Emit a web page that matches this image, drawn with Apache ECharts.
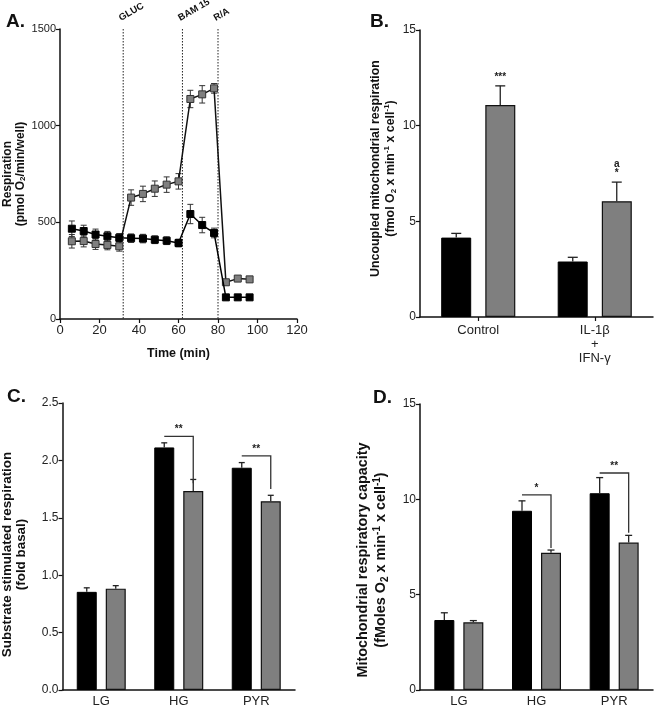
<!DOCTYPE html>
<html><head><meta charset="utf-8">
<script src="https://cdn.jsdelivr.net/npm/echarts@6/dist/echarts.min.js"></script>
<style>html,body{margin:0;padding:0;background:#fff}#c{width:654px;height:708px}</style>
</head><body><div id="c"></div>
<script>
// ---------- Panel A data ----------
const timeMin      = [6,12,18,24,30,36,42,48,54,60,66,72,78,84,90,96];
const blackResp    = [467,455,437,428,420,418,416,410,405,393,543,486,445,112,112,112];
const blackRespErr = [40,30,28,25,22,22,22,20,20,20,50,40,25,6,6,6];
const grayResp     = [402,403,388,383,376,628,647,674,695,712,1138,1162,1193,190,209,205];
const grayRespErr  = [35,30,28,25,25,40,40,40,40,40,45,45,25,10,10,10];
const injectTimes  = [32,62,80];
const injectLabels = ['GLUC','BAM 15','R/A'];
const aXTicks = [0,20,40,60,80,100,120];
const aYTicks = [0,500,1000,1500];

// ---------- Panel B data ----------
const bCats     = ['Control','IL-1β\n+\nIFN-γ'];
const bBlack    = [4.15, 2.90];
const bBlackErr = [0.22, 0.22];
const bGray     = [11.08, 6.05];
const bGrayErr  = [1.00, 1.00];
const bMarks    = ['***','a\n*'];

// ---------- Panel C data ----------
const cCats     = ['LG','HG','PYR'];
const cBlack    = [0.855, 2.113, 1.936];
const cBlackErr = [0.035, 0.040, 0.045];
const cGray     = [0.883, 1.734, 1.644];
const cGrayErr  = [0.026, 0.100, 0.052];
const cBracketCat    = [1, 2];
const cBracketLevel  = [2.21, 2.04];
const cBracketBottom = [1.80, 1.75];
const cBracketText   = ['**','**'];

// ---------- Panel D data ----------
const dCats     = ['LG','HG','PYR'];
const dBlack    = [3.67, 9.40, 10.32];
const dBlackErr = [0.38, 0.52, 0.82];
const dGray     = [3.55, 7.20, 7.73];
const dGrayErr  = [0.09, 0.14, 0.38];
const dBracketCat    = [1, 2];
const dBracketLevel  = [10.23, 11.38];
const dBracketBottom = [7.45, 8.25];
const dBracketText   = ['*','**'];

// ---------- styling ----------
const FONT = 'Liberation Sans, Arial, sans-serif';
const GRAY = '#7f7f7f';
const AX = {lineStyle:{color:'#111', width:1.5}};
const TICK = {show:true, length:4, lineStyle:{color:'#111', width:1.2}};
function lbl(size){ return {color:'#222', fontSize:size, fontFamily:FONT}; }
function richName(fs, lh){
  const s = Math.round(fs*0.68);
  return {
    b:{fontSize:fs, fontWeight:'bold', fontFamily:FONT, color:'#111', lineHeight:lh},
    s:{fontSize:s, fontWeight:'bold', fontFamily:FONT, color:'#111', lineHeight:lh, verticalAlign:'bottom'},
    p:{fontSize:s, fontWeight:'bold', fontFamily:FONT, color:'#111', lineHeight:lh, verticalAlign:'top'}
  };
}
const letterStyle = {fontSize:19, fontWeight:'bold', fontFamily:FONT, color:'#111'};

const chart = echarts.init(document.getElementById('c'), null, {renderer:'canvas'});

function triple(xs, ys, es){ return xs.map((x,i)=>[x, ys[i], es[i]]); }
function catTriple(ys, es){ return ys.map((y,i)=>[i, y, es[i]]); }

// two-sided error bars for panel A
function errBoth(params, api){
  const x = api.value(0), y = api.value(1), e = api.value(2);
  const lo = api.coord([x, y - e]), hi = api.coord([x, y + e]);
  const cap = 3, st = {stroke:'#333', lineWidth:1};
  return {type:'group', children:[
    {type:'line', shape:{x1:lo[0],y1:lo[1],x2:hi[0],y2:hi[1]}, style:st},
    {type:'line', shape:{x1:lo[0]-cap,y1:lo[1],x2:lo[0]+cap,y2:lo[1]}, style:st},
    {type:'line', shape:{x1:hi[0]-cap,y1:hi[1],x2:hi[0]+cap,y2:hi[1]}, style:st}
  ]};
}
// upward error bars for bars, offset from category centre
function errUp(offset, cap){
  return function(params, api){
    const c = api.value(0), y = api.value(1), e = api.value(2);
    const p0 = api.coord([c, y]), p1 = api.coord([c, y + e]);
    const x = p0[0] + offset, st = {stroke:'#222', lineWidth:1.3};
    return {type:'group', children:[
      {type:'line', shape:{x1:x,y1:p0[1],x2:x,y2:p1[1]}, style:st},
      {type:'line', shape:{x1:x-cap,y1:p1[1],x2:x+cap,y2:p1[1]}, style:st}
    ]};
  };
}
function bracket(offset, texts){
  return function(params, api){
    const c = api.value(0);
    const pl = api.coord([c, api.value(1)]), pb = api.coord([c, api.value(2)]);
    const x1 = pl[0] - offset, x2 = pl[0] + offset;
    return {type:'group', children:[
      {type:'polyline', shape:{points:[[x1,pl[1]],[x2,pl[1]],[x2,pb[1]]]}, style:{stroke:'#333', lineWidth:1.3, fill:null}},
      {type:'text', x:(x1+x2)/2, y:pl[1]-2, style:{text:texts[params.dataIndex], fill:'#222', font:'bold 10px '+FONT, textAlign:'center', textVerticalAlign:'bottom'}}
    ]};
  };
}

const bOff = 22, cOff = 14.5;

const option = {
  backgroundColor:'#fff',
  animation:false,
  title:[
    {text:'A.', left:6, top:12, padding:0, textStyle:letterStyle},
    {text:'B.', left:370, top:12, padding:0, textStyle:letterStyle},
    {text:'C.', left:7, top:387, padding:0, textStyle:letterStyle},
    {text:'D.', left:373, top:388, padding:0, textStyle:letterStyle}
  ],
  grid:[
    {left:60, top:29, width:237, height:290},
    {left:420, top:30, width:233, height:287},
    {left:62, top:403, width:233, height:289},
    {left:420, top:404, width:233, height:288}
  ],
  xAxis:[
    {gridIndex:0, type:'value', min:aXTicks[0], max:aXTicks[aXTicks.length-1], interval:20,
     axisLine:AX, axisTick:TICK, axisLabel:Object.assign({margin:5}, lbl(13)), splitLine:{show:false},
     name:'Time (min)', nameLocation:'middle', nameGap:28,
     nameTextStyle:{fontSize:12.5, fontWeight:'bold', fontFamily:FONT, color:'#111'}},
    {gridIndex:1, type:'category', data:bCats, axisLine:AX,
     axisTick:{show:true, alignWithLabel:true, length:4, lineStyle:{color:'#111', width:1.2}},
     axisLabel:Object.assign({lineHeight:14, margin:6}, lbl(13))},
    {gridIndex:2, type:'category', data:cCats, axisLine:AX, axisTick:{show:false},
     axisLabel:Object.assign({margin:5}, lbl(13))},
    {gridIndex:3, type:'category', data:dCats, axisLine:AX, axisTick:{show:false},
     axisLabel:Object.assign({margin:5}, lbl(13))}
  ],
  yAxis:[
    {gridIndex:0, type:'value', min:aYTicks[0], max:aYTicks[aYTicks.length-1], interval:500,
     axisLine:Object.assign({show:true}, AX), axisTick:TICK,
     axisLabel:Object.assign({formatter:v=>String(v), margin:4}, lbl(11)), splitLine:{show:false},
     name:'{b|Respiration}\n{b|(pmol O}{s|2}{b|/min/well)}', nameLocation:'middle', nameGap:33,
     nameTextStyle:{rich:richName(12, 13)}},
    {gridIndex:1, type:'value', min:0, max:15, interval:5,
     axisLine:Object.assign({show:true}, AX), axisTick:TICK, axisLabel:Object.assign({margin:4}, lbl(12)), splitLine:{show:false},
     name:'{b|Uncoupled mitochondrial respiration}\n{b|(fmol O}{s|2}{b| x min}{p|-1}{b| x cell}{p|-1}{b|)}',
     nameLocation:'middle', nameGap:22, nameTextStyle:{rich:richName(12.4, 15), padding:[0,0,0,10]}},
    {gridIndex:2, type:'value', min:0, max:2.5, interval:0.5,
     axisLine:Object.assign({show:true}, AX), axisTick:TICK,
     axisLabel:Object.assign({formatter:v=>v.toFixed(1), margin:4}, lbl(12)), splitLine:{show:false},
     name:'{b|Substrate stimulated respiration}\n{b|(fold basal)}', nameLocation:'middle', nameGap:34,
     nameTextStyle:{rich:richName(13.4, 14), padding:[0,16,0,0]}},
    {gridIndex:3, type:'value', min:0, max:15, interval:5,
     axisLine:Object.assign({show:true}, AX), axisTick:TICK, axisLabel:Object.assign({margin:4}, lbl(12)), splitLine:{show:false},
     name:'{b|Mitochondrial respiratory capacity}\n{b|(fMoles O}{s|2}{b| x min}{p|-1}{b| x cell}{p|-1}{b|)}',
     nameLocation:'middle', nameGap:30, nameTextStyle:{rich:richName(14.4, 18), padding:[0,26,0,0]}}
  ],
  series:[
    // ----- Panel A -----
    {type:'custom', xAxisIndex:0, yAxisIndex:0, clip:false, z:1,
     data:injectTimes.map(t=>[t, aYTicks[aYTicks.length-1]]),
     renderItem:function(params, api){
       const x = api.value(0);
       const top = api.coord([x, api.value(1)]), bot = api.coord([x, 0]);
       return {type:'group', children:[
         {type:'line', shape:{x1:top[0],y1:top[1],x2:bot[0],y2:bot[1]}, style:{stroke:'#222', lineWidth:1, lineDash:[1.5,1.5]}},
         {type:'text', x:top[0]-1, y:top[1]-6, rotation:Math.PI/6,
          style:{text:injectLabels[params.dataIndex], fill:'#111', font:'bold 9.5px '+FONT, textAlign:'left', textVerticalAlign:'bottom'}}
       ]};
     }},
    {type:'custom', xAxisIndex:0, yAxisIndex:0, z:2, data:triple(timeMin, grayResp, grayRespErr), renderItem:errBoth},
    {type:'custom', xAxisIndex:0, yAxisIndex:0, z:2, data:triple(timeMin, blackResp, blackRespErr), renderItem:errBoth},
    {type:'line', xAxisIndex:0, yAxisIndex:0, z:3, data:timeMin.map((t,i)=>[t, grayResp[i]]),
     symbol:'rect', symbolSize:7, lineStyle:{color:'#111', width:1.5},
     itemStyle:{color:GRAY, borderColor:'#333', borderWidth:1}},
    {type:'line', xAxisIndex:0, yAxisIndex:0, z:4, data:timeMin.map((t,i)=>[t, blackResp[i]]),
     symbol:'rect', symbolSize:7, lineStyle:{color:'#000', width:1.5},
     itemStyle:{color:'#000', borderColor:'#000', borderWidth:1}},

    // ----- Panel B -----
    {type:'bar', xAxisIndex:1, yAxisIndex:1, data:bBlack, barWidth:30, barGap:'47%',
     itemStyle:{color:'#000', borderColor:'#000', borderWidth:1}},
    {type:'bar', xAxisIndex:1, yAxisIndex:1, data:bGray, barWidth:30, barGap:'47%',
     itemStyle:{color:GRAY, borderColor:'#111', borderWidth:1.2}},
    {type:'custom', xAxisIndex:1, yAxisIndex:1, z:5, data:catTriple(bBlack, bBlackErr), renderItem:errUp(-bOff, 5)},
    {type:'custom', xAxisIndex:1, yAxisIndex:1, z:5, data:catTriple(bGray, bGrayErr), renderItem:errUp(bOff, 5)},
    {type:'custom', xAxisIndex:1, yAxisIndex:1, z:5, data:catTriple(bGray, bGrayErr),
     renderItem:function(params, api){
       const c = api.value(0), p = api.coord([c, api.value(1) + api.value(2)]);
       return {type:'text', x:p[0]+bOff, y:p[1]-4,
         style:{text:bMarks[params.dataIndex], fill:'#222', font:'bold 10px '+FONT, textAlign:'center', textVerticalAlign:'bottom', lineHeight:9}};
     }},

    // ----- Panel C -----
    {type:'bar', xAxisIndex:2, yAxisIndex:2, data:cBlack, barWidth:20, barGap:'45%',
     itemStyle:{color:'#000', borderColor:'#000', borderWidth:1}},
    {type:'bar', xAxisIndex:2, yAxisIndex:2, data:cGray, barWidth:20, barGap:'45%',
     itemStyle:{color:GRAY, borderColor:'#111', borderWidth:1.2}},
    {type:'custom', xAxisIndex:2, yAxisIndex:2, z:5, data:catTriple(cBlack, cBlackErr), renderItem:errUp(-cOff, 3)},
    {type:'custom', xAxisIndex:2, yAxisIndex:2, z:5, data:catTriple(cGray, cGrayErr), renderItem:errUp(cOff, 3)},
    {type:'custom', xAxisIndex:2, yAxisIndex:2, z:6, clip:false,
     data:cBracketCat.map((c,i)=>[c, cBracketLevel[i], cBracketBottom[i]]), renderItem:bracket(cOff, cBracketText)},

    // ----- Panel D -----
    {type:'bar', xAxisIndex:3, yAxisIndex:3, data:dBlack, barWidth:20, barGap:'45%',
     itemStyle:{color:'#000', borderColor:'#000', borderWidth:1}},
    {type:'bar', xAxisIndex:3, yAxisIndex:3, data:dGray, barWidth:20, barGap:'45%',
     itemStyle:{color:GRAY, borderColor:'#111', borderWidth:1.2}},
    {type:'custom', xAxisIndex:3, yAxisIndex:3, z:5, data:catTriple(dBlack, dBlackErr), renderItem:errUp(-cOff, 3.5)},
    {type:'custom', xAxisIndex:3, yAxisIndex:3, z:5, data:catTriple(dGray, dGrayErr), renderItem:errUp(cOff, 3.5)},
    {type:'custom', xAxisIndex:3, yAxisIndex:3, z:6, clip:false,
     data:dBracketCat.map((c,i)=>[c, dBracketLevel[i], dBracketBottom[i]]), renderItem:bracket(cOff, dBracketText)}
  ]
};
chart.setOption(option);
</script>
</body></html>
